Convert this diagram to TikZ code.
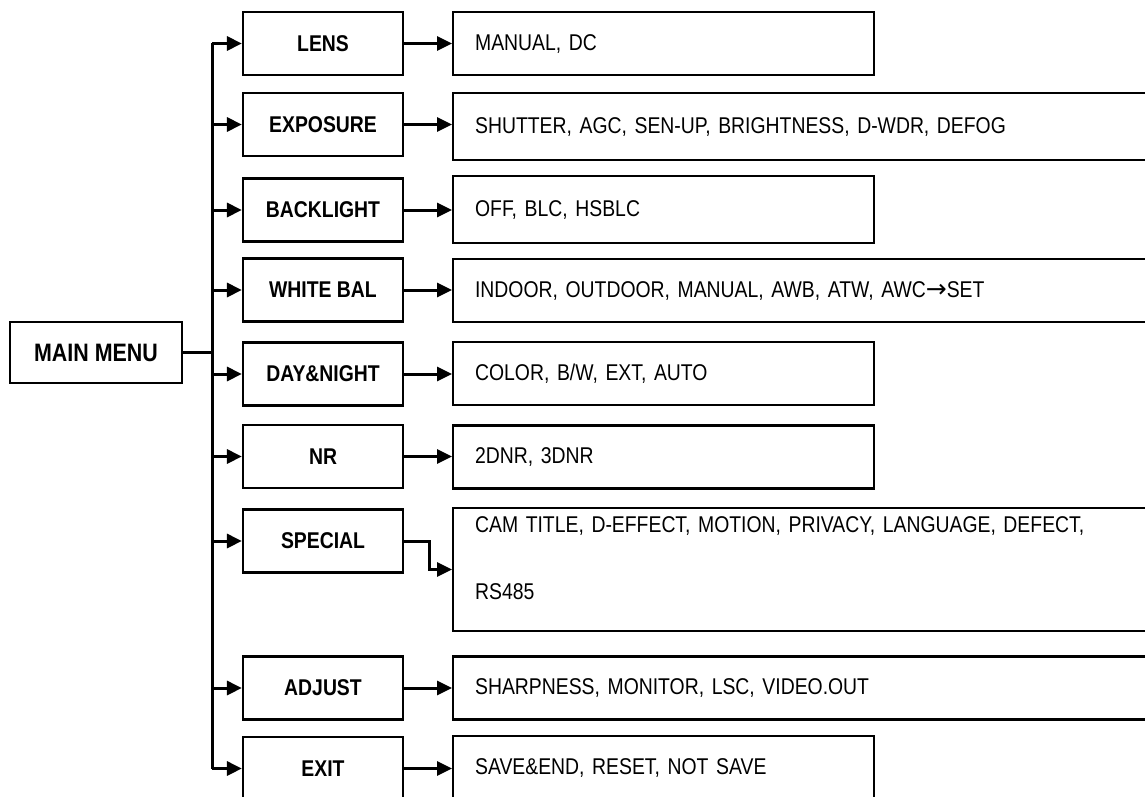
\documentclass[tikz,border=0pt]{standalone}
\usepackage{fontspec}
\setmainfont{Liberation Sans}[FakeStretch=0.85]
\newfontfamily\arrowfont{DejaVu Sans}
\usetikzlibrary{arrows.meta}

\begin{document}
\begin{tikzpicture}[x=0.5pt,y=-0.5pt,
	box/.style={draw,line width=1.1pt,minimum width=80pt,minimum height=31.5pt,inner sep=0pt,
		font=\fontsize{11.4}{13}\selectfont\bfseries},
	opt/.style={draw,line width=1.1pt,anchor=west,minimum height=31.5pt,inner xsep=11pt,inner ysep=0pt,
		align=left,text width=188.5pt,font=\fontsize{11.4}{13}\selectfont},
	long/.style={text width=360pt},
	wire/.style={line width=1.5pt},
	link/.style={wire,-{Triangle[length=7.5pt,width=7pt]}}]
	\useasboundingbox (0,0) rectangle (1145,797);
	\clip (0,0) rectangle (1145,797);
	% main menu and its entries
	\node[box,minimum width=86pt,minimum height=30.5pt,font=\fontsize{12.6}{14}\selectfont\bfseries] (main) at (96,352.5) {MAIN MENU};
	\node[box] (lens) at (323,43.5) {LENS};
	\node[box] (expo) at (323,124.5) {EXPOSURE};
	\node[box] (back) at (323,210) {BACKLIGHT};
	\node[box] (wb) at (323,290) {WHITE BAL};
	\node[box] (dn) at (323,374) {DAY\&NIGHT};
	\node[box] (nr) at (323,456.5) {NR};
	\node[box] (spec) at (323,541) {SPECIAL};
	\node[box] (adj) at (323,688) {ADJUST};
	\node[box] (exit) at (323,768.5) {EXIT};
	% settings of each entry
	\node[opt] (lens-o) at (452,43.5) {MANUAL, DC};
	\node[opt,long,minimum height=33.5pt] (expo-o) at (452,126.5) {SHUTTER, AGC, SEN-UP, BRIGHTNESS, D-WDR, DEFOG};
	\node[opt,minimum height=33.5pt] (back-o) at (452,209.5) {OFF, BLC, HSBLC};
	\node[opt,long] (wb-o) at (452,290.5) {INDOOR, OUTDOOR, MANUAL, AWB, ATW, AWC{\arrowfont\fontsize{12.5}{13}\selectfont →}SET};
	\node[opt] (dn-o) at (452,373.5) {COLOR, B/W, EXT, AUTO};
	\node[opt] (nr-o) at (452,457) {2DNR, 3DNR};
	\node[opt,long,minimum height=61.5pt,font=\fontsize{11.4}{33.5}\selectfont] (spec-o) at (452,569.5)
		{CAM TITLE, D-EFFECT, MOTION, PRIVACY, LANGUAGE, DEFECT,\\RS485\rule[-11pt]{0pt}{1pt}};
	\node[opt,long] (adj-o) at (452,688) {SHARPNESS, MONITOR, LSC, VIDEO.OUT};
	\node[opt] (exit-o) at (452,767.5) {SAVE\&END, RESET, NOT SAVE};
	% connectors
	\coordinate (top) at (212,43.5);
	\coordinate (bot) at (212,768.5);
	\draw[wire] (top) -- (bot);
	\draw[wire] (main.east) -- (main.east -| top);
	\foreach \s in {lens,expo,back,wb,dn,nr,spec,adj,exit}
		\draw[link] (\s -| top) -- (\s.west);
	\foreach \s in {lens,expo,back,wb,dn,nr,adj,exit}
		\draw[link] (\s.east) -- (\s.east -| \s-o.west);
	\draw[link] (spec.east) -- ++(25,0) |- (spec-o.west);
\end{tikzpicture}
\end{document}
